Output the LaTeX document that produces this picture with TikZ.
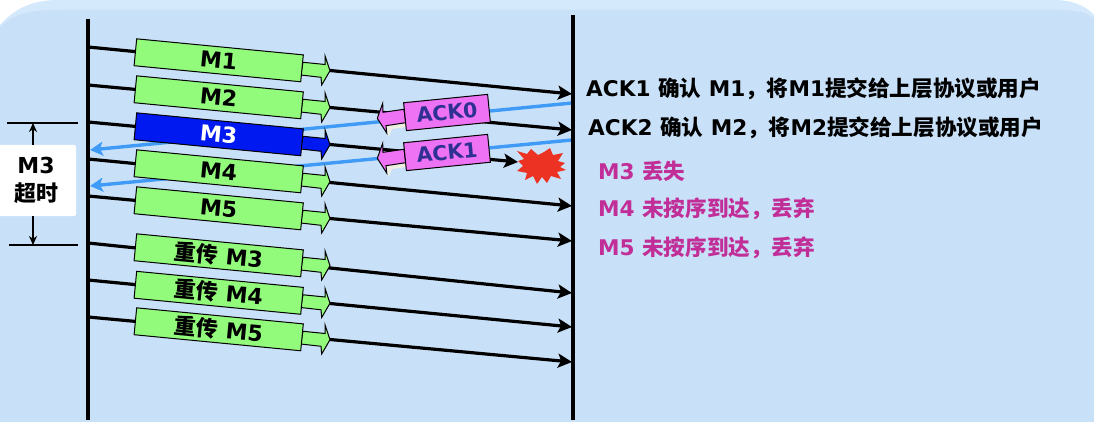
\documentclass[tikz,border=0pt]{standalone}
\usepackage{fontspec}
\setmainfont{DejaVu Sans}
\newfontfamily\cjk{Noto Sans CJK SC}
\usetikzlibrary{arrows.meta}
\definecolor{bgblue}{HTML}{C9E1F8}
\definecolor{bandblue}{HTML}{D4E9FC}
\definecolor{msggreen}{HTML}{93FB7C}
\definecolor{lostblue}{HTML}{0019F0}
\definecolor{ackblue}{HTML}{3F9BF6}
\definecolor{ackpink}{HTML}{EE72F4}
\definecolor{acktext}{HTML}{2F3192}
\definecolor{noteMag}{HTML}{C22E98}
\definecolor{starred}{HTML}{EC3323}
\definecolor{shadowbeige}{HTML}{EFEEE2}
\tikzset{
  x=1pt,y=-1pt,
  lifeline/.style={line width=3.8pt},
  msgline/.style={line width=3.2pt,-{Stealth[length=14pt,width=14pt,inset=3pt]}},
  ackline/.style={draw=ackblue,line width=3.4pt,-{Stealth[length=13pt,width=14pt,inset=3pt]}},
  tickline/.style={line width=1.4pt},
  spanarrow/.style={line width=1.6pt,-{Stealth[length=9pt,width=8pt]}},
  msgbox/.style={draw=black,line width=1pt,minimum width=167.4pt,minimum height=27pt,inner sep=0pt,rotate=-5.5,font=\fontsize{22}{22}\selectfont\bfseries},
  ackbox/.style={draw=black,line width=1pt,fill=ackpink,text=acktext,minimum width=84.4pt,minimum height=28pt,inner sep=0pt,rotate=5.7,font=\fontsize{20.5}{20.5}\selectfont\bfseries},
  blockhead/.style={draw=black,line width=1pt,line join=miter},
  notetext/.style={anchor=west,inner sep=0pt,font=\fontsize{21.6}{21.6}\selectfont\bfseries},
  timeouttext/.style={fill=white,rounded corners=2pt,minimum width=80pt,minimum height=71pt,inner sep=0pt,align=center,font=\fontsize{22}{28}\selectfont\bfseries},
}
\newcommand{\msgpart}[5]{% name, y offset, fill, text colour, text
  \begin{scope}[shift={(0,#2)}]
    \filldraw[blockhead,fill=#3] (303,62.3) -- (325,64.5) -- (325,55.7) -- (330,70.7) -- (321.7,85) -- (321,77.3) -- (300.7,75) -- cycle;
    \node[msgbox,fill=#3,text=#4] (#1) at (218.7,60.3) {#5};
  \end{scope}
}
\newcommand{\ackpart}[3]{% name, y offset, text
  \begin{scope}[shift={(0,#2)}]
    \fill[shadowbeige] (386,125.7) -- (406,122.7) -- (406,127) -- (392,129) -- (388.5,137.5) -- cycle;
    \filldraw[blockhead,fill=ackpink] (404,109.3) -- (383,112.3) -- (382.7,103.3) -- (377.3,118.3) -- (386.7,133) -- (386,125.7) -- (405.7,122.7) -- cycle;
    \node[ackbox] (#1) at (447,112.5) {#3};
  \end{scope}
}
\begin{document}
\begin{tikzpicture}
\useasboundingbox (0,0) rectangle (1094,422);
% background panel
\fill[white] (0,0) rectangle (1094,422);
\fill[bandblue] (0,422) -- (0,25) .. controls (14,9) and (32,0) .. (58,0) -- (1054,0) .. controls (1072,0) and (1086,6) .. (1094,15) -- (1094,422) -- cycle;
\fill[bgblue] (0,422) -- (0,27) .. controls (14,13) and (32,10) .. (58,10) -- (1060,10) .. controls (1074,10) and (1086,12) .. (1094,18) -- (1094,422) -- cycle;
% lifelines
\coordinate (leftTop) at (88,19);
\coordinate (leftBot) at (88,420);
\coordinate (rightTop) at (573,15);
\coordinate (rightBot) at (573,420);
% end points of the messages
\coordinate (s1) at (88,47);   \coordinate (r1) at (572,94);
\coordinate (s2) at (88,85);   \coordinate (r2) at (572,130);
\coordinate (s3) at (88,122);  \coordinate (r3) at (518,162);
\coordinate (s4) at (88,159);  \coordinate (r4) at (572,206);
\coordinate (s5) at (88,196);  \coordinate (r5) at (572,241);
\coordinate (s6) at (88,243);  \coordinate (r6) at (572,293);
\coordinate (s7) at (88,280);  \coordinate (r7) at (572,327);
\coordinate (s8) at (88,317);  \coordinate (r8) at (572,362);
\coordinate (a0s) at (572,103); \coordinate (a0e) at (90,150);
\coordinate (a1s) at (572,140); \coordinate (a1e) at (90,186);
\foreach \i in {1,...,8} {\draw[msgline] (s\i) -- (r\i);}
\draw[ackline] (a0s) -- (a0e);
\draw[ackline] (a1s) -- (a1e);
\draw[lifeline] (leftTop) -- (leftBot);
\draw[lifeline] (rightTop) -- (rightBot);
% message blocks
\msgpart{mA}{0}{msggreen}{black}{M1}
\msgpart{mB}{37}{msggreen}{black}{M2}
\msgpart{mC}{74}{lostblue}{white}{M3}
\msgpart{mD}{111}{msggreen}{black}{M4}
\msgpart{mE}{148}{msggreen}{black}{M5}
\msgpart{mF}{195}{msggreen}{black}{{\cjk 重传} M3}
\msgpart{mG}{232.5}{msggreen}{black}{{\cjk 重传} M4}
\msgpart{mH}{269}{msggreen}{black}{{\cjk 重传} M5}
% acknowledgements
\ackpart{ackA}{0}{ACK0}
\ackpart{ackB}{40}{ACK1}
% loss mark
\fill[starred] (517,151) -- (527,154) -- (531,149) -- (538,155) -- (544,152) -- (550,148) -- (553,155) -- (563,153) -- (558,161) -- (565,163) -- (560,167) -- (566,170) -- (557,172) -- (561,179) -- (551,176) -- (547,183) -- (542,177) -- (537,184) -- (533,176) -- (525,180) -- (527,173) -- (517,171) -- (523,166) -- (518,161) -- (524,159) -- cycle;
% timeout span
\coordinate (tickAl) at (7,123);  \coordinate (tickAr) at (78,123);
\coordinate (tickBl) at (9,245);  \coordinate (tickBr) at (78,245);
\coordinate (spanA) at (33,123);  \coordinate (spanB) at (33,245);
\draw[tickline] (tickAl) -- (tickAr);
\draw[tickline] (tickBl) -- (tickBr);
\node[timeouttext] (timeout) at (36,180.5) {M3\\{\cjk 超时}};
\draw[spanarrow] (timeout.north -| spanA) -- (spanA);
\draw[spanarrow] (timeout.south -| spanB) -- (spanB);
% receiver notes
\node[notetext] (n1) at (586,88.5) {ACK1 {\cjk 确认} M1{\cjk ，将}M1{\cjk 提交给上层协议或用户}};
\node[notetext] (n2) at (588,127.5) {ACK2 {\cjk 确认} M2{\cjk ，将}M2{\cjk 提交给上层协议或用户}};
\node[notetext,text=noteMag] (n3) at (598,171.5) {M3 {\cjk 丢失}};
\node[notetext,text=noteMag] (n4) at (598,208.5) {M4 {\cjk 未按序到达，丢弃}};
\node[notetext,text=noteMag] (n5) at (598,247.5) {M5 {\cjk 未按序到达，丢弃}};
\end{tikzpicture}
\end{document}
